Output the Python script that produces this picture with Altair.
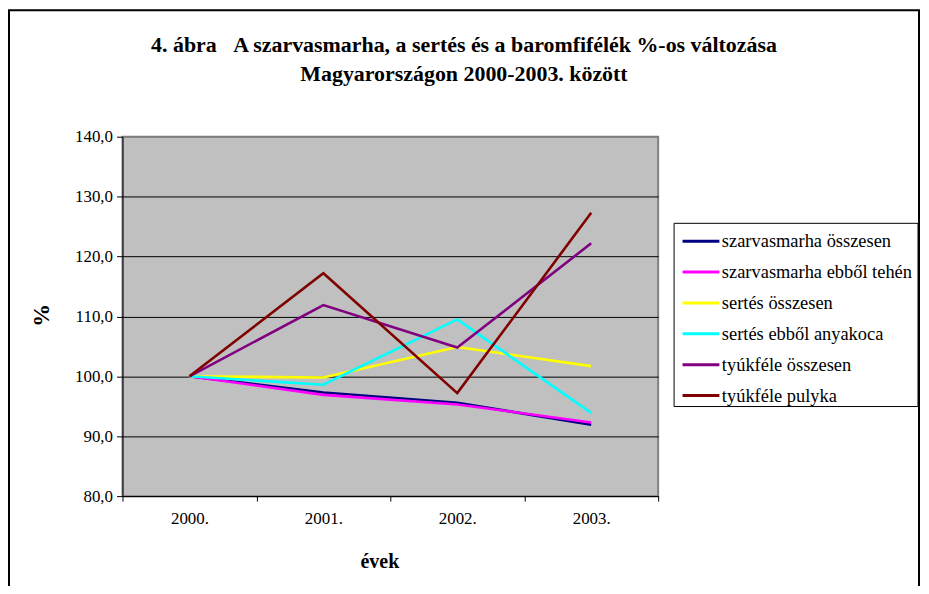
import altair as alt
import pandas as pd

years = ["2000.", "2001.", "2002.", "2003."]
series = [
    "szarvasmarha összesen",
    "szarvasmarha ebből tehén",
    "sertés összesen",
    "sertés ebből anyakoca",
    "tyúkféle összesen",
    "tyúkféle pulyka",
]
colors = ["#000080", "#FF00FF", "#FFFF00", "#00FFFF", "#800080", "#800000"]

szarvasmarha_osszesen = [100.0, 97.3, 95.6, 91.9]
szarvasmarha_tehen = [100.0, 96.9, 95.3, 92.3]
sertes_osszesen = [100.0, 99.8, 104.9, 101.7]
sertes_anyakoca = [100.0, 98.6, 109.5, 93.9]
tyukfele_osszesen = [100.0, 111.9, 104.8, 122.2]
tyukfele_pulyka = [100.0, 117.2, 97.2, 127.3]

values = [szarvasmarha_osszesen, szarvasmarha_tehen, sertes_osszesen,
          sertes_anyakoca, tyukfele_osszesen, tyukfele_pulyka]

rows = []
for si, (name, vals) in enumerate(zip(series, values)):
    for y, v in zip(years, vals):
        rows.append({"ev": y, "sorozat": name, "ertek": v, "rend": si})
df = pd.DataFrame(rows)

FONT = "Liberation Serif"

lines = alt.Chart(df).mark_line(strokeWidth=2.6).encode(
    x=alt.X("ev:N", sort=years, bandPosition=0.5,
            scale=alt.Scale(type="band", paddingInner=0, paddingOuter=0),
            axis=alt.Axis(title="évek", tickBand="extent", labelAngle=0,
                          labelFontSize=17, labelFont=FONT, labelColor="black",
                          labelPadding=9, tickSize=5, tickColor="black",
                          domainColor="black", grid=False,
                          titleFont=FONT, titleFontSize=20, titleFontWeight="bold",
                          titleColor="black", titleX=258, titleY=66,
                          titleAlign="center", titleBaseline="middle")),
    y=alt.Y("ertek:Q", scale=alt.Scale(domain=[80, 140], nice=False, zero=False),
            axis=alt.Axis(title="%", values=[80, 90, 100, 110, 120, 130, 140],
                          labelExpr="replace(format(datum.value, '.1f'), '.', ',')",
                          labelFontSize=17, labelFont=FONT, labelColor="black",
                          labelPadding=4, tickSize=6, tickColor="black",
                          domainColor="black",
                          grid=True,
                          gridColor=alt.condition("datum.value == 140", alt.value("#808080"), alt.value("black")),
                          gridWidth=1,
                          titleFont=FONT, titleFontSize=23, titleFontWeight="bold",
                          titleColor="black", titleAngle=270, titleX=-81, titleY=179,
                          titleAlign="center", titleBaseline="middle")),
    color=alt.Color("sorozat:N", sort=series,
                    scale=alt.Scale(domain=series, range=colors),
                    legend=alt.Legend(title=None, orient="none", legendX=554, legendY=78,
                                      symbolType="stroke", symbolSize=1369,
                                      symbolStrokeWidth=3, labelFont=FONT,
                                      labelFontSize=18.5, labelColor="black",
                                      labelOffset=1, rowPadding=1,
                                      padding=7, labelLimit=300)),
    order=alt.Order("rend:Q"),
)

deco_df = pd.DataFrame({"a": [0]})
frame = alt.Chart(deco_df).mark_rect(fill=None, stroke="black", strokeWidth=2).encode(
    x=alt.value(-114), x2=alt.value(800), y=alt.value(-127), y2=alt.value(480)
)
legend_box = alt.Chart(deco_df).mark_rect(fill="white", stroke="black", strokeWidth=1).encode(
    x=alt.value(554), x2=alt.value(799), y=alt.value(87), y2=alt.value(271)
)

chart = alt.layer(frame, legend_box, lines).properties(
    width=538, height=361,
    autosize=alt.AutoSizeParams(type="none"),
    padding={"left": 115, "top": 128, "right": 264, "bottom": 89},
    title=alt.TitleParams(
        text=["4. ábra\u00a0\u00a0\u00a0A szarvasmarha, a sertés és a baromfifélék %-os változása",
              "Magyarországon 2000-2003. között"],
        font=FONT, fontSize=22, fontWeight="bold", color="black",
        anchor="middle", dx=74, offset=0, dy=77, lineHeight=29,
    ),
).configure_view(fill="#C0C0C0", stroke="#808080", strokeWidth=2)

chart.save("out.html", embed_options={"renderer": "svg", "actions": False})
